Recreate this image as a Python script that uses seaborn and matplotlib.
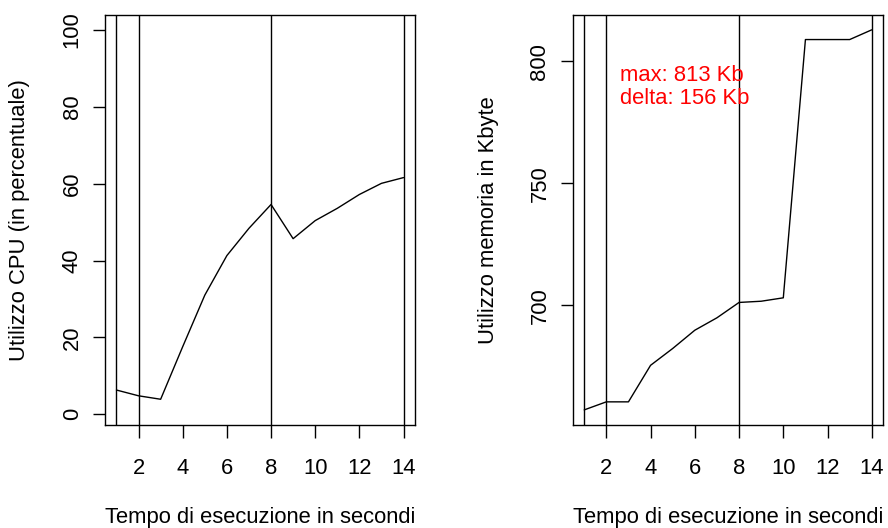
import matplotlib
matplotlib.use("Agg")
import matplotlib.pyplot as plt
import seaborn as sns
import pandas as pd

# ---- data ----
seconds = [1, 2, 3, 4, 5, 6, 7, 8, 9, 10, 11, 12, 13, 14]
cpu_pct = [6.3, 4.8, 3.9, 17.6, 31.0, 41.3, 48.4, 54.6, 45.7, 50.4, 53.6, 57.2, 60.1, 61.6]
mem_kb = [657, 660.3, 660.3, 675.3, 682.2, 689.7, 694.8, 701.1, 701.6, 703.0, 809, 809, 809, 813]
markers_v = [1, 2, 8, 14]
x_ticks = [2, 4, 6, 8, 10, 12, 14]
cpu_ticks = [0, 20, 40, 60, 80, 100]
mem_ticks = [700, 750, 800]
xlabel = "Tempo di esecuzione in secondi"
cpu_ylabel = "Utilizzo CPU (in percentuale)"
mem_ylabel = "Utilizzo memoria in Kbyte"

df = pd.DataFrame({"sec": seconds, "cpu": cpu_pct, "mem": mem_kb})

sns.set_theme(style="white")
plt.rcParams["font.family"] = ["Liberation Sans", "DejaVu Sans"]
FS = 15.8
plt.rcParams["axes.edgecolor"] = "black"
plt.rcParams["axes.linewidth"] = 1.0

fig = plt.figure(figsize=(8.88, 5.28), dpi=100)
W, H = 888.0, 528.0
ax1 = fig.add_axes([105 / W, 1 - 425 / H, 310 / W, 410.3 / H])
ax2 = fig.add_axes([572.7 / W, 1 - 425 / H, 310.6 / W, 410.3 / H])


def style(ax, yticks, ylim, ylabel, ylab_x):
    for v in markers_v:
        ax.axvline(v, color="black", linewidth=1.0, zorder=1)
    ax.set_xlim(0.48, 14.52)
    ax.set_ylim(*ylim)
    ax.set_xticks(x_ticks)
    ax.set_yticks(yticks)
    ax.set_xticklabels([str(t) for t in x_ticks], fontsize=FS)
    ax.set_yticklabels([str(t) for t in yticks], fontsize=FS, rotation=90, va="center")
    ax.tick_params(axis="x", direction="out", length=9, width=1.0, pad=15, colors="black",
                   bottom=True)
    ax.tick_params(axis="y", direction="out", length=9, width=1.0, pad=7, colors="black",
                   left=True)
    ax.set_xlabel(xlabel, fontsize=FS, va="baseline", color="black")
    ax.xaxis.set_label_coords(0.5, -0.2389)
    ax.set_ylabel(ylabel, fontsize=FS, va="center", color="black")
    ax.yaxis.set_label_coords(ylab_x, 0.5)
    for s in ax.spines.values():
        s.set_visible(True)
        s.set_color("black")
        s.set_linewidth(1.0)


sns.lineplot(data=df, x="sec", y="cpu", ax=ax1, color="black", linewidth=1.0, zorder=3)
style(ax1, cpu_ticks, (-2.8, 104.0), cpu_ylabel, -0.2768)

sns.lineplot(data=df, x="sec", y="mem", ax=ax2, color="black", linewidth=1.0, zorder=3)
style(ax2, mem_ticks, (650.8, 819.2), mem_ylabel, -0.2695)

mx = max(mem_kb)
delta = max(mem_kb) - min(mem_kb)
ax2.text(2.63, 792.1, f"max: {mx:.0f} Kb", color="red", fontsize=FS, va="baseline", ha="left")
ax2.text(2.63, 782.5, f"delta: {delta:.0f} Kb", color="red", fontsize=FS, va="baseline", ha="left")

fig.savefig("out.png", dpi=100)
